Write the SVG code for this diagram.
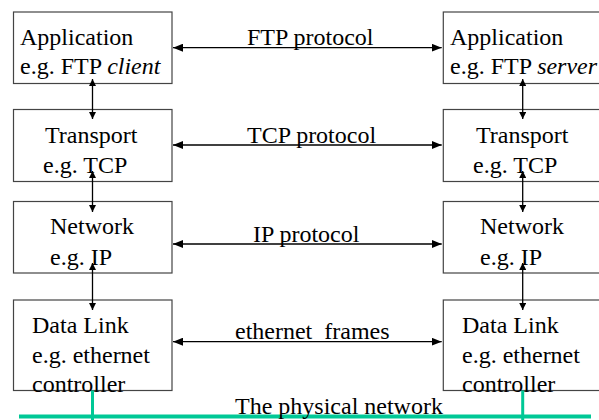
<svg xmlns="http://www.w3.org/2000/svg" width="599" height="420" viewBox="0 0 599 420">
<style>
.box{fill:#fff;stroke:#444;stroke-width:1.2}
.t{font-family:'Liberation Serif','DejaVu Serif',serif;font-size:24px;fill:#000}
.it{font-style:italic}
.c{stroke:#000;stroke-width:1.3;fill:none}
.g{stroke:#00c896;fill:none}
</style>
<defs>
<marker id="ah" viewBox="0 0 10 8" refX="10" refY="4" markerWidth="10" markerHeight="8" markerUnits="userSpaceOnUse" orient="auto-start-reverse">
<path d="M0,0 L10,4 L0,8 z" fill="#000"/>
</marker>
<marker id="av" viewBox="0 0 7 7" refX="7" refY="3.5" markerWidth="7" markerHeight="7" markerUnits="userSpaceOnUse" orient="auto-start-reverse">
<path d="M0,0 L7,3.5 L0,7 z" fill="#000"/>
</marker>
</defs>
<g class="t" font-family="Liberation Serif, DejaVu Serif, serif" font-size="24">
<g id="app-client"><rect class="box" x="13.5" y="12" width="158.5" height="71.5"/><text x="20" y="45">Application</text><text x="20" y="74">e.g. FTP <tspan class="it">client</tspan></text></g>
<g id="transport-left"><rect class="box" x="13.5" y="109.5" width="158.5" height="72"/><text x="45" y="143">Transport</text><text x="43" y="173">e.g. TCP</text></g>
<g id="network-left"><rect class="box" x="13.5" y="201.5" width="158.5" height="71.5"/><text x="50" y="234">Network</text><text x="50" y="265">e.g. IP</text></g>
<g id="datalink-left"><rect class="box" x="13.5" y="300" width="158.5" height="90.5"/><text x="32" y="333">Data Link</text><text x="32" y="363">e.g. ethernet</text><text x="32" y="392">controller</text></g>
<g id="app-server"><rect class="box" x="443.3" y="12" width="200" height="71.5"/><text x="450" y="45">Application</text><text x="450" y="74">e.g. FTP <tspan class="it">server</tspan></text></g>
<g id="transport-right"><rect class="box" x="443.3" y="109.5" width="200" height="72"/><text x="476" y="143">Transport</text><text x="473" y="173">e.g. TCP</text></g>
<g id="network-right"><rect class="box" x="443.3" y="201.5" width="200" height="71.5"/><text x="480" y="234">Network</text><text x="480" y="265">e.g. IP</text></g>
<g id="datalink-right"><rect class="box" x="443.3" y="300" width="200" height="90.5"/><text x="462" y="333">Data Link</text><text x="462" y="363">e.g. ethernet</text><text x="462" y="392">controller</text></g>
<g id="connectors">
<line class="c" x1="173" y1="47.7" x2="441.7" y2="47.7" marker-start="url(#ah)" marker-end="url(#ah)"/>
<line class="c" x1="173" y1="145" x2="441.7" y2="145" marker-start="url(#ah)" marker-end="url(#ah)"/>
<line class="c" x1="173" y1="244" x2="441.7" y2="244" marker-start="url(#ah)" marker-end="url(#ah)"/>
<line class="c" x1="173" y1="341.7" x2="441.7" y2="341.7" marker-start="url(#ah)" marker-end="url(#ah)"/>
<line class="c" x1="92.5" y1="79" x2="92.5" y2="119" marker-start="url(#av)" marker-end="url(#av)"/>
<line class="c" x1="92.5" y1="171" x2="92.5" y2="212" marker-start="url(#av)" marker-end="url(#av)"/>
<line class="c" x1="92.5" y1="263" x2="92.5" y2="310" marker-start="url(#av)" marker-end="url(#av)"/>
<line class="c" x1="522.7" y1="79" x2="522.7" y2="119" marker-start="url(#av)" marker-end="url(#av)"/>
<line class="c" x1="522.7" y1="171" x2="522.7" y2="212" marker-start="url(#av)" marker-end="url(#av)"/>
<line class="c" x1="522.7" y1="263" x2="522.7" y2="310" marker-start="url(#av)" marker-end="url(#av)"/>
<text x="247" y="45">FTP protocol</text>
<text x="247" y="143">TCP protocol</text>
<text x="253" y="241.5">IP protocol</text>
<text x="235" y="339" xml:space="preserve">ethernet  frames</text>
<line class="g" x1="92.5" y1="390.5" x2="92.5" y2="420" stroke-width="3"/>
<line class="g" x1="522.7" y1="390.5" x2="522.7" y2="420" stroke-width="3"/>
<line class="g" x1="19" y1="416.5" x2="591" y2="416.5" stroke-width="4"/>
<text x="235" y="414">The physical network</text>
</g>
</g>
</svg>
